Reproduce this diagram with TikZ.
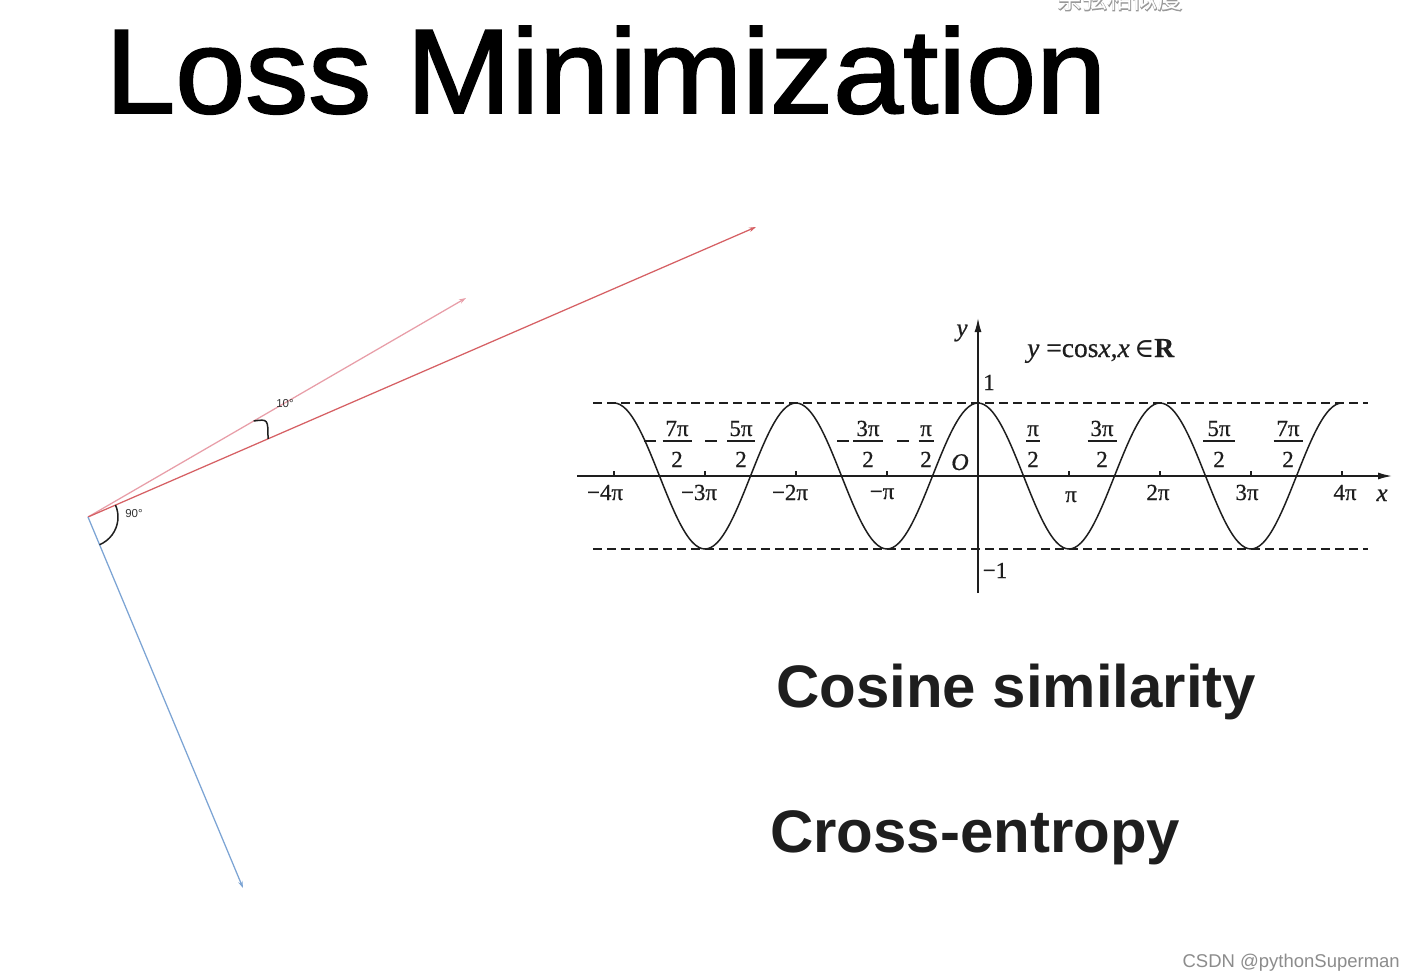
\documentclass[tikz,border=0pt]{standalone}
\usepackage{fontspec}
\setmainfont{Liberation Serif}
\setsansfont{Liberation Sans}
\newfontfamily\cjk{Noto Sans CJK SC}
\newfontfamily\cjkfat[FakeBold=4]{Noto Sans CJK SC}
\newfontfamily\titlefont[FakeBold=1.6]{Liberation Sans}
\newfontfamily\graphfont[FakeBold=0.6]{Liberation Serif}
\newfontfamily\symfont{DejaVu Serif}
\usetikzlibrary{arrows.meta,calc}
\definecolor{redvec}{RGB}{214,96,100}
\definecolor{pinkvec}{RGB}{232,158,168}
\definecolor{bluevec}{RGB}{124,164,212}
\definecolor{ink}{RGB}{30,30,30}
\tikzset{
  vec/.style={line width=1.25pt,-{Stealth[length=7pt,width=4.5pt]}},
  anglemark/.style={line width=1.5pt,ink},
  anglelab/.style={font=\sffamily\fontsize{11.5}{11.5}\selectfont,text=black!80,inner sep=0pt},
  gline/.style={line width=1.5pt,ink},
  dashline/.style={line width=1.4pt,ink,dash pattern=on 9pt off 5pt},
  glab/.style={font=\graphfont\fontsize{23}{23}\selectfont,text=ink,inner sep=0pt,anchor=base},
  bigtext/.style={font=\sffamily\bfseries\fontsize{60}{60}\selectfont,text=ink,inner sep=0pt,anchor=base west},
}
\begin{document}
\begin{tikzpicture}[x=1pt,y=-1pt]
\fill[white] (0,0) rectangle (1415,979);
\useasboundingbox (0,0) rectangle (1415,979);

% faint header (cut off at top, as in the reference)
\node[anchor=base,inner sep=0pt,font=\cjkfat\fontsize{25}{25}\selectfont,text=black!40] (cjkshadow) at (1120,9) {余弦相似度};
\node[anchor=base,inner sep=0pt,font=\cjk\fontsize{25}{25}\selectfont,text=white] (cjk) at (1120,9) {余弦相似度};

% title
\node[anchor=base west,inner sep=0pt,font=\titlefont\fontsize{120}{120}\selectfont] (title) at (105,113) {\scalebox{1.05}[1]{Loss Minimization}};

% vectors
\coordinate (O) at (88,517);
\coordinate (B) at (243,888);
\coordinate (R) at (756,227);
\coordinate (P) at (466,298);
\draw[vec,pinkvec] (O) -- (P);
\draw[vec,redvec] (O) -- (R);
\draw[vec,bluevec] (O) -- (B);
\coordinate (a90s) at ($(O)+(-23.5:30)$);
\draw[anglemark] (a90s) arc[start angle=-23.5,end angle=67.3,radius=30];
\coordinate (a10s) at (253.7,421);
\coordinate (a10e) at (268,438.9);
\draw[anglemark] (a10s) .. controls (268,419) .. (a10e);
\node[anglelab] (l10) at (285,404) {10°};
\node[anglelab] (l90) at (134,514) {90°};

% cosine graph
\coordinate (xl) at (577,476);
\coordinate (xr) at (1392,476);
\coordinate (yb) at (978,593);
\coordinate (yt) at (978,318);
\draw[dashline] (593,403) -- (1368,403);
\draw[dashline] (593,549) -- (1368,549);
\draw[gline,-{Latex[length=14pt,width=7pt]}] (xl) -- (xr);
\draw[gline,-{Latex[length=14pt,width=7pt]}] (yb) -- (yt);
\foreach \k in {-4,-3,-2,-1,1,2,3,4}
  \draw[gline] ({978+91*\k},476) -- ++(0,-5);
\draw[gline] plot[domain=-12.566:12.566,samples=241,smooth] ({978+91/pi*\x},{476-73*cos(\x r)});

% axis labels
\node[glab] (lm4) at (605,500) {−4π};
\node[glab] (lm3) at (699,500) {−3π};
\node[glab] (lm2) at (790,500) {−2π};
\node[glab] (lm1) at (882,499) {−π};
\node[glab] (lp1) at (1071,502) {π};
\node[glab] (lp2) at (1158,500) {2π};
\node[glab] (lp3) at (1247,500) {3π};
\node[glab] (lp4) at (1345,500) {4π};
\node[glab,font=\graphfont\itshape\fontsize{25}{25}\selectfont] (lx) at (1382,501) {x};
\node[glab,font=\graphfont\itshape\fontsize{25}{25}\selectfont] (ly) at (962,336) {y};
\node[glab,font=\graphfont\itshape\fontsize{24}{24}\selectfont] (lO) at (960,470) {O};
\node[glab] (l1) at (989,390) {1};
\node[glab] (lmone) at (995,578) {−1};

% fractions
\foreach \cx/\num/\w in {677/7π/29, 741/5π/28, 868/3π/30, 926/π/15, 1033/π/14, 1102/3π/29, 1219/5π/32, 1288/7π/29}{
  \node[glab] at (\cx,436) {\num};
  \draw[line width=1.2pt,ink] ({\cx-\w/2},441) -- ({\cx+\w/2},441);
  \node[glab] at (\cx,467) {2};
}
\foreach \mx in {650,711,843,903}
  \draw[line width=1.2pt,ink] ({\mx-6},441) -- ({\mx+6},441);

% equation
\node[anchor=base west,inner sep=0pt,font=\graphfont\fontsize{27.5}{27.5}\selectfont,text=ink] (eq) at (1027,357) {\textit{y} =cos\textit{x},\textit{x}\,{\symfont\fontsize{27}{27}\selectfont ∈}\textbf{R}};

% words
\node[bigtext] (cosine) at (776,707) {Cosine similarity};
\node[bigtext] (xent) at (770,852) {Cross-entropy};

% watermark
\node[anchor=base east,inner sep=0pt,font=\sffamily\fontsize{18.5}{18.5}\selectfont,text=black!45] (wm) at (1400,967) {CSDN @pythonSuperman};
\end{tikzpicture}
\end{document}
